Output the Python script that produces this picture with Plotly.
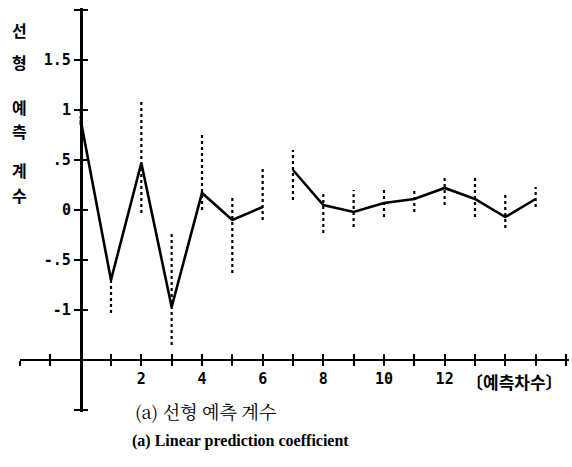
import plotly.graph_objects as go

# ---- data ----
order = [0, 1, 2, 3, 4, 5, 6, 7, 8, 9, 10, 11, 12, 13, 14, 15]
coef = [0.90, -0.70, 0.47, -0.97, 0.17, -0.10, 0.03, 0.40, 0.05, -0.02, 0.07, 0.11, 0.22, 0.11, -0.07, 0.11]
spread_lo = [0.85, -1.03, -0.03, -1.35, 0.00, -0.63, -0.10, 0.10, -0.23, -0.17, -0.07, -0.02, 0.05, -0.07, -0.18, 0.03]
spread_hi = [1.00, -0.65, 1.08, -0.23, 0.75, 0.12, 0.42, 0.60, 0.17, 0.20, 0.20, 0.22, 0.35, 0.33, 0.16, 0.23]
gap_after = 6  # line is broken between order 6 and 7

x_tickvals = list(range(-2, 17))
x_ticktext = ["", "", "", "", "2", "", "4", "", "6", "", "8", "", "10", "", "12", "", "", "", ""]
y_tickvals = [2.0, 1.5, 1.0, 0.5, 0.0, -0.5, -1.0, -2.0]
y_ticktext = ["", "1.5", "1", ".5", "0", "-.5", "-1", ""]

XR = [-2.0, 16.1]
YR = [-2.02, 2.02]
x_axis_level = -1.5

# ---- build traces ----
lx, ly = [], []
for xv, yv in zip(order, coef):
    lx.append(xv); ly.append(yv)
    if xv == gap_after:
        lx.append(None); ly.append(None)

ex, ey = [], []
for xv, lo, hi in zip(order, spread_lo, spread_hi):
    ex += [xv, xv, None]
    ey += [lo, hi, None]

fig = go.Figure()
fig.add_trace(go.Scatter(x=ex, y=ey, mode="lines",
                         line=dict(color="black", width=2.2, dash="dot"),
                         hoverinfo="skip", showlegend=False))
fig.add_trace(go.Scatter(x=lx, y=ly, mode="lines",
                         line=dict(color="black", width=2.6),
                         showlegend=False))
fig.add_trace(go.Scatter(x=[None], y=[None], xaxis="x2", yaxis="y2", showlegend=False))

tickfont = dict(family="DejaVu Sans Mono", size=15, color="black")
ypos = (0 - XR[0]) / (XR[1] - XR[0])
xpos = (x_axis_level - YR[0]) / (YR[1] - YR[0])

common_x = dict(range=XR, tickvals=x_tickvals, showgrid=False, zeroline=False,
                showline=True, linecolor="black", linewidth=2,
                ticklen=5, tickwidth=2, tickcolor="black",
                anchor="free", position=xpos)
common_y = dict(range=YR, tickvals=y_tickvals, showgrid=False, zeroline=False,
                showline=True, linecolor="black", linewidth=2.5,
                ticklen=6, tickwidth=2, tickcolor="black",
                anchor="free", position=ypos)

fig.update_layout(
    width=572, height=467,
    margin=dict(l=20, r=3, t=8, b=55),
    paper_bgcolor="white", plot_bgcolor="white",
    xaxis=dict(**common_x, ticks="outside", ticktext=["<b>%s</b>" % t if t else "" for t in x_ticktext],
               tickfont=tickfont),
    yaxis=dict(**common_y, ticks="outside", ticktext=["<b>%s</b>" % t if t else "" for t in y_ticktext],
               tickfont=tickfont),
    xaxis2=dict(**common_x, ticks="inside", overlaying="x", showticklabels=False),
    yaxis2=dict(**common_y, ticks="inside", overlaying="y", showticklabels=False),
)

# vertical y-axis title (one syllable per line)
ylabel_chars = [("선", 30), ("형", 62), ("예", 107), ("측", 131), ("계", 170), ("수", 195)]
for ch, py in ylabel_chars:
    fig.add_annotation(text="<b>%s</b>" % ch, xref="paper", yref="paper", showarrow=False,
                       x=(19 - 20) / 549, y=1 - (py - 8) / 404,
                       xanchor="center", yanchor="middle",
                       font=dict(family="Noto Sans CJK KR", size=16, color="black"))

fig.add_annotation(text="<b>〔예측차수〕</b>", xref="x", yref="paper", showarrow=False,
                   x=12.65, xanchor="left", y=1 - (381 - 8) / 404, yanchor="middle",
                   font=dict(family="Noto Sans CJK KR", size=17, color="black"))

fig.add_annotation(text="(a) 선형 예측 계수", xref="paper", yref="paper", showarrow=False,
                   x=(133 - 20) / 549, xanchor="left", y=1 - (411 - 8) / 404, yanchor="middle",
                   font=dict(family="Noto Serif CJK KR, Noto Sans CJK KR", size=18, color="black"))
fig.add_annotation(text="<b>(a) Linear prediction coefficient</b>", xref="paper", yref="paper", showarrow=False,
                   x=(130 - 20) / 549, xanchor="left", y=1 - (441 - 8) / 404, yanchor="middle",
                   font=dict(family="Liberation Serif", size=16, color="black"))

fig.write_html("out.html")
